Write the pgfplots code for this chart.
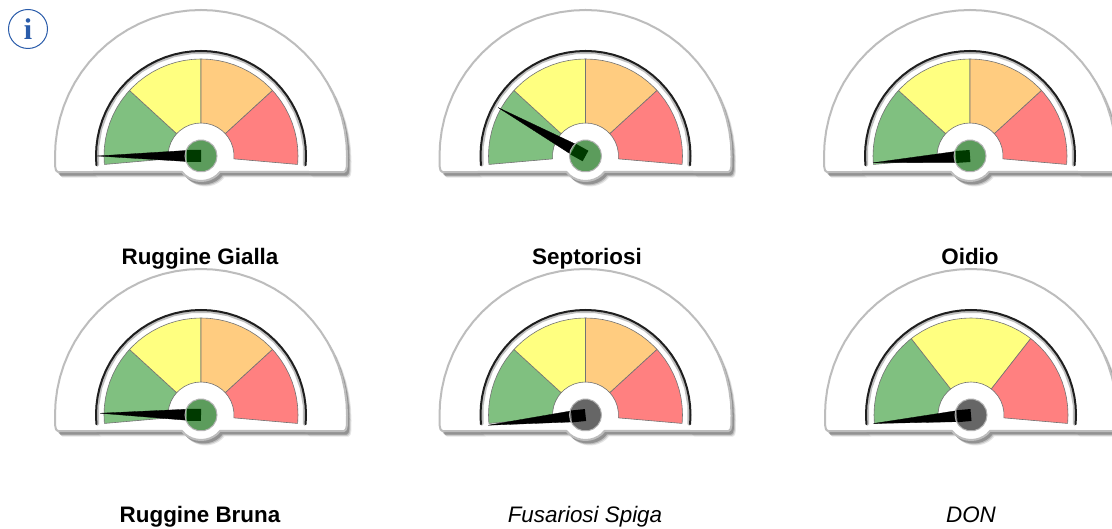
\documentclass[border=0pt]{standalone}
\usepackage{pgfplots}
\pgfplotsset{compat=1.18}
\usepackage{fontspec}
\setmainfont{Liberation Sans}
\newfontfamily\serifi{Liberation Serif}
\definecolor{gGreen}{HTML}{80C080}
\definecolor{gYellow}{HTML}{FFFF80}
\definecolor{gOrange}{HTML}{FFCC80}
\definecolor{gRed}{HTML}{FF8080}
\definecolor{hubGreen}{HTML}{5C9C5C}
\definecolor{hubGrey}{HTML}{666666}
\definecolor{sqGreen}{HTML}{003A00}
\definecolor{iconBlue}{HTML}{2A5CAA}
\pgfplotsset{seg/.style={draw=black!55,line width=0.6pt,line join=round}}
% shell outline, polar (angle, radius in px)
\newcommand\shellcoords{(180,146)(175,146)(170,146)(165,146)(160,146)(155,146)(150,146)(145,146)(140,146)(135,146)(130,146)(125,146)(120,146)(115,146)(110,146)(105,146)(100,146)(95,146)(90,146)(85,146)(80,146)(75,146)(70,146)(65,146)(60,146)(55,146)(50,146)(45,146)(40,146)(35,146)(30,146)(25,146)(20,146)(15,146)(10,146)(5,146)(0,146)(-3.9,146.3)(-5.7,145.7)(-6.4,143.9)(-40,24.8)(-50,25)(-60,25)(-70,25)(-80,25)(-90,25)(-100,25)(-110,25)(-120,25)(-130,25)(-140,24.8)(-173.6,143.9)(-174.3,145.7)(-176.1,146.3)}
\newcommand\faceFour{%
\addplot[seg,fill=gGreen] coordinates {(185,97)(180,97)(175,97)(170,97)(165,97)(160,97)(155,97)(150,97)(145,97)(140,97)(137.5,97)(137.5,33)(145,33)(155,33)(165,33)(175,33)(185,33)} --cycle;
\addplot[seg,fill=gYellow] coordinates {(137.5,97)(135,97)(130,97)(125,97)(120,97)(115,97)(110,97)(105,97)(100,97)(95,97)(90,97)(90,33)(100,33)(110,33)(120,33)(130,33)(137.5,33)} --cycle;
\addplot[seg,fill=gOrange] coordinates {(90,97)(85,97)(80,97)(75,97)(70,97)(65,97)(60,97)(55,97)(50,97)(45,97)(42.5,97)(42.5,33)(50,33)(60,33)(70,33)(80,33)(90,33)} --cycle;
\addplot[seg,fill=gRed] coordinates {(42.5,97)(40,97)(35,97)(30,97)(25,97)(20,97)(15,97)(10,97)(5,97)(0,97)(-5,97)(-5,33)(5,33)(15,33)(25,33)(35,33)(42.5,33)} --cycle;
}
\newcommand\faceThree{%
\addplot[seg,fill=gGreen] coordinates {(185,97)(180,97)(175,97)(170,97)(165,97)(160,97)(155,97)(150,97)(145,97)(140,97)(135,97)(130,97)(128,97)(128,33)(135,33)(145,33)(155,33)(165,33)(175,33)(185,33)} --cycle;
\addplot[seg,fill=gYellow] coordinates {(128,97)(125,97)(120,97)(115,97)(110,97)(105,97)(100,97)(95,97)(90,97)(85,97)(80,97)(75,97)(70,97)(65,97)(60,97)(55,97)(52,97)(52,33)(60,33)(70,33)(80,33)(90,33)(100,33)(110,33)(120,33)(128,33)} --cycle;
\addplot[seg,fill=gRed] coordinates {(52,97)(50,97)(45,97)(40,97)(35,97)(30,97)(25,97)(20,97)(15,97)(10,97)(5,97)(0,97)(-5,97)(-5,33)(5,33)(15,33)(25,33)(35,33)(45,33)(52,33)} --cycle;
}
% #1 cx, #2 cy (from the bottom), #3 face, #4 needle angle, #5 hub colour, #6 square colour, #7 needle length
\newcommand\gauge[7]{%
\pgfmathsetmacro\aTipA{#4+20}\pgfmathsetmacro\aTipB{#4-20}%
\pgfmathsetmacro\aPerA{#4+90}\pgfmathsetmacro\aPerB{#4-90}%
\pgfmathsetmacro\aSqA{#4+23.2}\pgfmathsetmacro\aSqB{#4-23.2}%
\pgfmathsetmacro\axX{#1-200}\pgfmathsetmacro\axY{#2-60}%
\begin{axis}[at={(\axX pt,\axY pt)},anchor=south west,scale only axis,width=400pt,height=220pt,
  xmin=-200,xmax=200,ymin=-60,ymax=160,hide axis,clip=false]
\addplot[draw=none,fill=black,fill opacity=0.10,xshift=4.5pt,yshift=-5.5pt,data cs=polar] coordinates {\shellcoords} --cycle;
\addplot[draw=none,fill=black,fill opacity=0.16,xshift=3.5pt,yshift=-4.5pt,data cs=polar] coordinates {\shellcoords} --cycle;
\addplot[draw=none,fill=black,fill opacity=0.24,xshift=2.5pt,yshift=-3.5pt,data cs=polar] coordinates {\shellcoords} --cycle;
\addplot[draw=black!26,line width=2pt,fill=white,line join=round,data cs=polar] coordinates {\shellcoords} --cycle;
\addplot[draw=black!25,line width=3.4pt,line cap=round,data cs=polar] coordinates {(185,104)(175,104)(165,104)(155,104)(145,104)(135,104)(125,104)(115,104)(105,104)(95,104)(85,104)(75,104)(65,104)(55,104)(45,104)(35,104)(25,104)(15,104)(5,104)(-5,104)};
\addplot[draw=black!88,line width=2pt,line cap=round,data cs=polar] coordinates {(185,105)(180,105)(175,105)(170,105)(165,105)(160,105)(155,105)(150,105)(145,105)(140,105)(135,105)(130,105)(125,105)(120,105)(115,105)(110,105)(105,105)(100,105)(95,105)(90,105)(85,105)(80,105)(75,105)(70,105)(65,105)(60,105)(55,105)(50,105)(45,105)(40,105)(35,105)(30,105)(25,105)(20,105)(15,105)(10,105)(5,105)(0,105)(-5,105)};
\pgfplotsset{every axis plot/.append style={data cs=polar}}
#3
\addplot[fill=black,draw=black,line width=0.3pt,data cs=polar] coordinates {(#4,#7)(\aTipA,16)(\aPerA,5.5)(\aPerB,5.5)(\aTipB,16)} --cycle;
\addplot[draw=black!30,line width=1pt,fill=#5,data cs=polar] coordinates {(0,16)(20,16)(40,16)(60,16)(80,16)(100,16)(120,16)(140,16)(160,16)(180,16)(200,16)(220,16)(240,16)(260,16)(280,16)(300,16)(320,16)(340,16)} --cycle;
\addplot[fill=#6,draw=none,data cs=polar] coordinates {(\aPerA,6)(\aSqA,15.2)(\aSqB,15.2)(\aPerB,6)} --cycle;
\end{axis}
}
\begin{document}
\begin{tikzpicture}[x=1pt,y=1pt]
\path[use as bounding box] (0,0) rectangle (1112,529);
\clip (0,0) rectangle (1112,529);
\fill[white] (0,0) rectangle (1112,529);
\gauge{201}{373}{\faceFour}{180}{hubGreen}{sqGreen}{104}
\gauge{585.5}{373}{\faceFour}{151}{hubGreen}{sqGreen}{100}
\gauge{970}{373}{\faceFour}{184}{hubGreen}{sqGreen}{97}
\gauge{201}{114}{\faceFour}{179}{hubGreen}{sqGreen}{101}
\gauge{585.5}{114}{\faceFour}{186}{hubGrey}{black}{98}
\gauge{971}{114}{\faceThree}{185}{hubGrey}{black}{98}
\node[anchor=base,font=\fontsize{22.4}{24}\selectfont\bfseries] at (200,264) {Ruggine Gialla};
\node[anchor=base,font=\fontsize{22.4}{24}\selectfont\bfseries] at (587,264) {Septoriosi};
\node[anchor=base,font=\fontsize{22.4}{24}\selectfont\bfseries] at (970,264) {Oidio};
\node[anchor=base,font=\fontsize{22.4}{24}\selectfont\bfseries] at (200,6) {Ruggine Bruna};
\node[anchor=base,font=\fontsize{22.4}{24}\selectfont\itshape] at (585,6) {Fusariosi Spiga};
\node[anchor=base,font=\fontsize{22.4}{24}\selectfont\itshape] at (971,6) {DON};
\draw[iconBlue,line width=1pt,fill=white] (28,500) circle (19.5);
\node[text=iconBlue,font=\serifi\bfseries\fontsize{30}{30}\selectfont] at (28,500) {i};
\end{tikzpicture}
\end{document}
